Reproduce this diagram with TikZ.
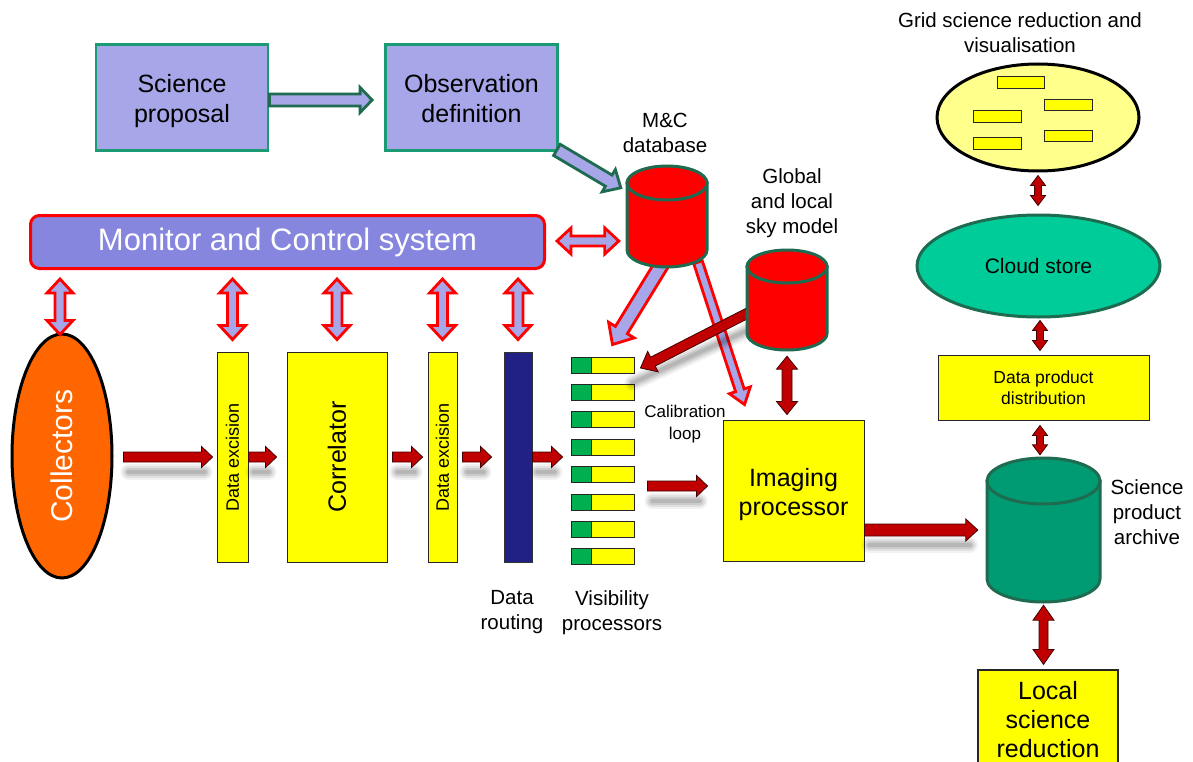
\documentclass[tikz,border=0pt]{standalone}
\usepackage{fontspec}
\setmainfont{Liberation Sans}
\usetikzlibrary{calc,shapes.geometric}

\definecolor{lav}{HTML}{A6A6E8}
\definecolor{mcblue}{HTML}{8686DE}
\definecolor{boxgreen}{HTML}{1A9B74}
\definecolor{dgreen}{HTML}{1E6B50}
\definecolor{dred}{HTML}{C00000}
\definecolor{yel}{HTML}{FFFF00}
\definecolor{pyel}{HTML}{FFFF8C}
\definecolor{cloudc}{HTML}{00CC99}
\definecolor{archc}{HTML}{009B72}
\definecolor{vgreen}{HTML}{00B050}
\definecolor{navy}{HTML}{212185}
\definecolor{orng}{HTML}{FF6600}

\newcommand\fsz[2]{\fontsize{#1}{#2}\selectfont}

% block arrow: style, from, to, shaft half width, head half width, head length
\newcommand\blockarrow[6]{%
  \coordinate (ba-h) at ($(#3)!#6!(#2)$);
  \path[#1] ($(#2)!#4!90:(#3)$) -- ($(ba-h)!#4!-90:(#2)$) -- ($(ba-h)!#5!-90:(#2)$)
    -- (#3) -- ($(ba-h)!#5!90:(#2)$) -- ($(ba-h)!#4!90:(#2)$) -- ($(#2)!#4!-90:(#3)$) -- cycle;}

% double-headed block arrow, same arguments
\newcommand\dblarrow[6]{%
  \coordinate (ba-a) at ($(#2)!#6!(#3)$);
  \coordinate (ba-b) at ($(#3)!#6!(#2)$);
  \path[#1] (#2) -- ($(ba-a)!#5!90:(#3)$) -- ($(ba-a)!#4!90:(#3)$) -- ($(ba-b)!#4!-90:(#2)$)
    -- ($(ba-b)!#5!-90:(#2)$) -- (#3) -- ($(ba-b)!#5!90:(#2)$) -- ($(ba-b)!#4!90:(#2)$)
    -- ($(ba-a)!#4!-90:(#3)$) -- ($(ba-a)!#5!-90:(#3)$) -- cycle;}

% soft grey shadow under an arrow shaft
\newcommand\softshadow[2]{%
  \coordinate (sh-a) at ($(#1)+(5,15)$);
  \coordinate (sh-b) at ($(#2)+(-8,15)$);
  \draw[black, opacity=0.05, line width=16pt, line cap=round] (sh-a) -- (sh-b);
  \draw[black, opacity=0.07, line width=12pt, line cap=round] (sh-a) -- (sh-b);
  \draw[black, opacity=0.09, line width=8pt, line cap=round] (sh-a) -- (sh-b);
  \draw[black, opacity=0.10, line width=4pt, line cap=round] (sh-a) -- (sh-b);}

% database drum: name, centre x, top y, bottom y, x radius, y radius, fill
\newcommand\drum[7]{%
  \path[fill=#7, draw=dgreen, line width=3pt] (#2-#5,#3) -- (#2-#5,#4)
    arc[start angle=180, end angle=0, x radius=#5, y radius=#6] -- (#2+#5,#3) -- cycle;
  \path[fill=#7, draw=dgreen, line width=3pt] (#2,#3) ellipse[x radius=#5, y radius=#6];
  \pgfmathsetmacro\drumh{#4-#3+2*#6}
  \pgfmathsetmacro\drumy{(#3+#4)/2}
  \pgfmathsetmacro\drumw{2*#5}
  \node[inner sep=0pt, minimum width=\drumw, minimum height=\drumh] (#1) at (#2,\drumy) {};}

\begin{document}
\begin{tikzpicture}[x=1pt, y=-1pt, line join=miter,
  plan/.style={draw=boxgreen, line width=2.8pt, fill=lav, inner sep=0pt,
    minimum width=172, minimum height=106},
  plantext/.style={align=center, inner sep=0pt, font=\fsz{25}{30}},
  ybox/.style={draw=black!85, line width=0.9pt, fill=yel, inner sep=0pt, align=center},
  redarr/.style={fill=dred, draw=dred!35!black, line width=0.8pt},
  mcarr/.style={fill=lav, draw=red, line width=2.8pt},
  garr/.style={fill=lav, draw=dgreen, line width=2.8pt},
  lbl/.style={align=center, inner sep=0pt, font=\fsz{20.5}{25}}]

\useasboundingbox (0,0) rectangle (1193,762);
\clip (0,0) rectangle (1193,762);
\fill[white] (0,0) rectangle (1193,762);

% planning boxes
\node[plan] (sp) at (182,97.5) {};
\node[plantext] (sptext) at ($(sp.center)+(0,4)$) {Science\\proposal};
\node[plan] (od) at (471.5,97.5) {};
\node[plantext] (odtext) at ($(od.center)+(0,1)$) {Observation\\definition};

% monitor and control bar
\node[draw=red, line width=3pt, fill=mcblue, rounded corners=9pt, minimum width=514,
  minimum height=53, inner sep=0pt, text=white, font=\fsz{31}{36}] (mcs) at (287.5,242)
  {Monitor and Control system};

% signal chain
\node[ellipse, draw=black, line width=3pt, fill=orng, minimum width=100,
  minimum height=244, inner sep=0pt] (coll) at (62,456) {};
\node[rotate=90, text=white, font=\fsz{30}{36}] at (coll.center) {Collectors};

\node[ybox, minimum width=31, minimum height=210] (de1) at (232.5,457) {};
\node[rotate=90, font=\fsz{18}{22}] at (de1.center) {Data excision};
\node[ybox, minimum width=100, minimum height=210] (cor) at (337,457) {};
\node[rotate=90, font=\fsz{25}{30}] at (cor.center) {Correlator};
\node[ybox, minimum width=29, minimum height=210] (de2) at (442.5,457) {};
\node[rotate=90, font=\fsz{18}{22}] at (de2.center) {Data excision};
\node[draw=black!80, line width=0.9pt, fill=navy, minimum width=28, minimum height=210,
  inner sep=0pt] (rout) at (518,457) {};

\foreach \i in {1,...,8}{
  \pgfmathsetmacro\yy{365+(\i-1)*27.4}
  \node[draw=black!85, line width=0.9pt, fill=vgreen, minimum width=20, minimum height=16,
    inner sep=0pt] (vpg\i) at (581,\yy) {};
  \node[ybox, minimum width=43, minimum height=16] (vpy\i) at (612.5,\yy) {};
}

\node[ybox, minimum width=141, minimum height=141] (img) at (793.5,490.5) {};
\node[plantext, font=\fsz{25}{29}] (imgtext) at ($(img.center)+(0,4)$) {Imaging\\processor};

% labels
\node[lbl] (lmc) at (665,133) {M\&C\\database};
\node[lbl] (lsky) at (792,203.5) {Global\\and local\\sky model};
\node[lbl] (lgrid) at (1020,32.5) {Grid science reduction and\\visualisation};
\node[lbl] (larch) at (1147,512) {Science\\product\\archive};
\node[lbl, font=\fsz{17}{22}] (lcal) at (685,424.5) {Calibration\\loop};
\node[lbl] (lrout) at (512,612.5) {Data\\routing};
\node[lbl] (lvp) at (612,613) {Visibility\\processors};

% arrows leaving the M&C database (under the drums)
\node[inner sep=0pt, minimum width=80, minimum height=101] (mcdbbox) at (667,216.5) {};
\coordinate (mvs) at ($(mcdbbox.south)+(-4,-5)$);
\coordinate (mve) at ($(vpy1.north)+(0,-12)$);
\blockarrow{mcarr}{mvs}{mve}{7pt}{15pt}{17pt}
\coordinate (mis) at ($(mcdbbox.south)+(31,-5)$);
\coordinate (mie) at ($(img.north west)+(22,-15)$);
\blockarrow{mcarr}{mis}{mie}{4.5pt}{11pt}{15pt}

% sky model to the visibility processors
\node[inner sep=0pt, minimum width=80, minimum height=100] (skybox) at (787,300) {};
\coordinate (r8s) at ($(skybox.west)+(1,13)$);
\coordinate (r8e) at ($(vpy1.east)+(6,3)$);
\softshadow{r8s}{r8e}
\blockarrow{redarr}{r8s}{r8e}{5pt}{11.5pt}{14pt}

% databases
\drum{mcdb}{667}{183}{250}{40}{17}{red}
\drum{sky}{787}{266.5}{333.5}{40}{16.5}{red}
\drum{arch}{1043.5}{481}{579}{56.5}{23}{archc}

% distribution side
\node[ellipse, draw=black, line width=3pt, fill=pyel, minimum width=202, minimum height=107,
  inner sep=0pt] (grid) at (1038,117.5) {};
\node[ybox, minimum width=47, minimum height=12] (g1) at (1020.5,82) {};
\node[ybox, minimum width=48, minimum height=11] (g2) at (1068,104.5) {};
\node[ybox, minimum width=48, minimum height=12] (g3) at (997,116) {};
\node[ybox, minimum width=48, minimum height=11] (g4) at (1068,135.5) {};
\node[ybox, minimum width=48, minimum height=12] (g5) at (997,143) {};

\node[ellipse, draw=dgreen, line width=3pt, fill=cloudc, minimum width=243, minimum height=102,
  inner sep=0pt, font=\fsz{21}{25}] (cloud) at (1038.5,266) {Cloud store};
\node[ybox, minimum width=211, minimum height=65, font=\fsz{17.5}{21}] (dpd) at (1043.5,387.5)
  {Data product\\distribution};
\node[ybox, line width=1.2pt, minimum width=140, minimum height=100, font=\fsz{25}{29}] (lsr)
  at (1048,720) {Local\\science\\reduction};

% data flow arrows
\coordinate (r1s) at ($(coll.east |- de1.west)+(10,0)$);
\coordinate (r1e) at ($(de1.west)+(-4,0)$);
\coordinate (r2s) at (de1.east);
\coordinate (r2e) at ($(cor.west)+(-10,0)$);
\coordinate (r3s) at ($(cor.east)+(5,0)$);
\coordinate (r3e) at ($(de2.west)+(-5,0)$);
\coordinate (r4s) at ($(de2.east)+(5,0)$);
\coordinate (r4e) at ($(rout.west)+(-12,0)$);
\coordinate (r5s) at (rout.east);
\coordinate (r5e) at ($(vpg1.west |- rout.east)+(-8,0)$);
\coordinate (r6s) at ($(vpy1.east |- img.west)+(13,-4.5)$);
\coordinate (r6e) at ($(img.west)+(-15,-4.5)$);
\coordinate (r7s) at ($(img.east)+(0,39.5)$);
\coordinate (r7e) at ($(arch.west |- r7s)+(-9,0)$);
\softshadow{r1s}{r1e}
\softshadow{r2s}{r2e}
\softshadow{r3s}{r3e}
\softshadow{r4s}{r4e}
\softshadow{r5s}{r5e}
\softshadow{r6s}{r6e}
\softshadow{r7s}{r7e}
\blockarrow{redarr}{r1s}{r1e}{5pt}{10.5pt}{11pt}
\blockarrow{redarr}{r2s}{r2e}{5pt}{10.5pt}{11pt}
\blockarrow{redarr}{r3s}{r3e}{5pt}{10.5pt}{11pt}
\blockarrow{redarr}{r4s}{r4e}{5pt}{10.5pt}{11pt}
\blockarrow{redarr}{r5s}{r5e}{5pt}{10.5pt}{11pt}
\blockarrow{redarr}{r6s}{r6e}{5pt}{10.5pt}{11pt}
\blockarrow{redarr}{r7s}{r7e}{6pt}{11pt}{12pt}

% two-way links on the distribution side
\coordinate (d1s) at ($(sky.south)+(0,6)$);
\coordinate (d1e) at ($(img.north -| sky.south)+(0,-5)$);
\dblarrow{redarr}{d1s}{d1e}{5pt}{10.5pt}{13pt}
\coordinate (d2s) at ($(grid.south)+(0,3)$);
\coordinate (d2e) at ($(cloud.north -| grid.south)+(0,-8)$);
\dblarrow{redarr}{d2s}{d2e}{3.5pt}{7.5pt}{10pt}
\coordinate (d3s) at ($(cloud.south)+(1.5,2)$);
\coordinate (d3e) at ($(dpd.north -| d3s)+(0,-4)$);
\dblarrow{redarr}{d3s}{d3e}{3.5pt}{7.5pt}{10pt}
\coordinate (d4s) at ($(dpd.south -| d3s)+(0,5)$);
\coordinate (d4e) at ($(arch.north -| d3s)+(0,-3)$);
\dblarrow{redarr}{d4s}{d4e}{3.5pt}{7.5pt}{10pt}
\coordinate (d5s) at ($(arch.south)+(0,3)$);
\coordinate (d5e) at ($(lsr.north -| arch.south)+(0,-5)$);
\dblarrow{redarr}{d5s}{d5e}{4.5pt}{10.5pt}{15pt}

% monitor and control links
\coordinate (m0s) at ($(mcs.south -| coll.north)+(-2,9)$);
\coordinate (m0e) at ($(coll.north)+(-2,2)$);
\dblarrow{mcarr}{m0s}{m0e}{5pt}{13pt}{14pt}
\foreach \n in {de1,cor,de2,rout}{
  \coordinate (ms-\n) at ($(mcs.south -| \n.north)+(0,9)$);
  \coordinate (me-\n) at ($(\n.north)+(0,-12)$);
  \dblarrow{mcarr}{ms-\n}{me-\n}{5pt}{13pt}{14pt}
}
\coordinate (mms) at ($(mcs.east)+(11,-1)$);
\coordinate (mme) at ($(mcdb.west |- mms)+(-8,0)$);
\dblarrow{mcarr}{mms}{mme}{5pt}{13pt}{14pt}

% planning flow
\coordinate (gs) at ($(sp.east)+(0,2.5)$);
\coordinate (ge) at ($(od.west)+(-12,2.5)$);
\blockarrow{garr}{gs}{ge}{6pt}{12.5pt}{12pt}
\coordinate (os) at ($(od.south east)+(-2,-2)$);
\coordinate (oe) at ($(mcdb.north west)+(-6,22)$);
\blockarrow{garr}{os}{oe}{6.5pt}{13pt}{14pt}

\end{tikzpicture}
\end{document}
